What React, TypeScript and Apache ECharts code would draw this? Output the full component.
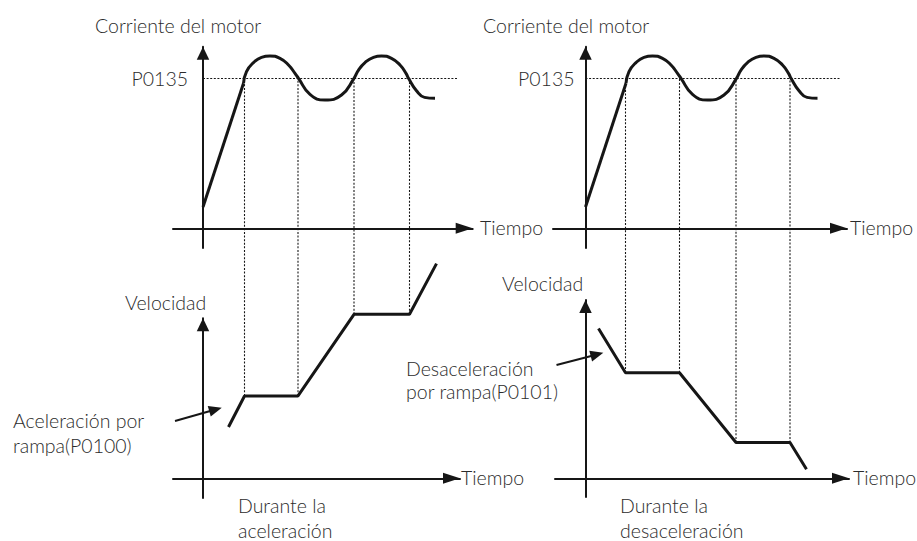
import React, { useEffect, useRef } from "react";
import * as echarts from "echarts";

// ---------- data ----------
// Motor current (P0135 = 100)
const currentRampTime = [0, 8.1];
const currentRampValue = [14.2, 96.7];
const currentWaveTime = [8.1, 8.7, 10.1, 11.7, 13.4, 15.4, 17.1, 18.4, 19.1, 21.4, 24.4, 27.7, 30.2, 31.1, 32.4, 34.1, 35.7, 37.7, 39.4, 40.6, 41.1, 42.7, 44.3, 46.4];
const currentWaveValue = [96.7, 104.5, 110.5, 114, 114.9, 113.3, 108.9, 103.3, 100, 89.3, 85.5, 88.9, 100, 105.5, 110.5, 114, 114.9, 113.3, 108.9, 103.3, 100, 91.7, 87.3, 86.7];
const p0135Level = 100;
const p0135End = 50.8;

// Speed during acceleration / deceleration
const accelTime = [5.1, 8.3, 19.0, 30.2, 41.3, 46.7];
const accelSpeed = [31.3, 50.2, 50.2, 100, 100, 130.9];
const decelTime = [2.6, 8.0, 18.8, 30.1, 40.9, 44.2];
const decelSpeed = [91.3, 64.4, 64.4, 21.8, 21.8, 5.5];
const cornerIndexes = [1, 2, 3, 4];

// Annotation arrows (tail, head)
const accelArrowTime = [-5.6, 2.5];
const accelArrowSpeed = [34.9, 42.0];
const decelArrowTime = [-5.8, 2.3];
const decelArrowSpeed = [69.1, 75.5];

// Texts
const currentTitle = "Corriente del motor";
const speedTitle = "Velocidad";
const timeName = "Tiempo";
const levelName = "P0135";
const accelNote = ["Aceleración por", "rampa(P0100)"];
const decelNote = ["Desaceleración", "por rampa(P0101)"];
const accelCaption = ["Durante la", "aceleración"];
const decelCaption = ["Durante la", "desaceleración"];

// ---------- layout ----------
const INK = "#161616";
const TEXT = "#2b2b2b";
const FONT = "Lato, 'Open Sans', sans-serif";
const FS = 19.5;
const FW = 300;

type Panel = { ox: number; oy: number; x0: number; x1: number; yTop: number; yBot: number; kx: number; ky: number };
const curL: Panel = { ox: 203, oy: 228.3, x0: 173, x1: 472.7, yTop: 46.7, yBot: 248, kx: 5, ky: 1.5 };
const spdL: Panel = { ox: 203, oy: 478.3, x0: 173, x1: 460, yTop: 318.3, yBot: 498, kx: 5, ky: 1.64 };
const curR: Panel = { ox: 585.5, oy: 228.3, x0: 553, x1: 847, yTop: 46.7, yBot: 248, kx: 5, ky: 1.5 };
const spdR: Panel = { ox: 585.5, oy: 478.3, x0: 555, x1: 849, yTop: 300, yBot: 497, kx: 5, ky: 1.64 };
const panels = [curL, spdL, curR, spdR];

const zip = (xs: number[], ys: number[]) => xs.map((x, i) => [x, ys[i]]);

function gridOf(p: Panel) {
  return { left: p.x0, top: p.yTop, width: p.x1 - p.x0, height: p.yBot - p.yTop, containLabel: false };
}

function axisOf(kind: "x" | "y", p: Panel, idx: number) {
  const arrow = kind === "x" ? [11, 17] : [12.5, 13];
  const min = kind === "x" ? (p.x0 - p.ox) / p.kx : -(p.yBot - p.oy) / p.ky;
  const max = kind === "x" ? (p.x1 - p.ox) / p.kx : (p.oy - p.yTop) / p.ky;
  return {
    type: "value",
    gridIndex: idx,
    min,
    max,
    axisLine: {
      show: true,
      onZero: true,
      symbol: ["none", "triangle"],
      symbolSize: arrow,
      symbolOffset: [0, -arrow[1] / 2],
      lineStyle: { color: INK, width: 2 },
    },
    axisTick: { show: false },
    axisLabel: { show: false },
    splitLine: { show: false },
  };
}

function line(idx: number, data: number[][], extra: any = {}) {
  return {
    type: "line",
    xAxisIndex: idx,
    yAxisIndex: idx,
    data,
    symbol: "none",
    clip: false,
    silent: true,
    lineStyle: { color: INK, width: 3 },
    z: 3,
    ...extra,
  };
}

const dottedStyle = { color: INK, width: 1.1, type: [2, 1.6] };

function currentSeries(idx: number, labelGap: number) {
  return [
    line(idx, zip(currentRampTime, currentRampValue)),
    line(idx, zip(currentWaveTime, currentWaveValue), {
      smooth: 0.5,
      markLine: {
        silent: true,
        symbol: ["none", "none"],
        lineStyle: dottedStyle,
        label: {
          show: true,
          position: "start",
          distance: labelGap,
          formatter: levelName,
          color: TEXT,
          fontFamily: FONT,
          fontSize: FS,
          fontWeight: FW,
        },
        data: [[{ coord: [0, p0135Level] }, { coord: [p0135End, p0135Level] }]],
      },
    }),
  ];
}

function speedSeries(idx: number, cur: Panel, p: Panel, t: number[], v: number[], at: number[], av: number[]) {
  // value of the P0135 level expressed on this panel's speed axis
  const levelPx = cur.oy - p0135Level * cur.ky;
  const vTop = (p.oy - levelPx) / p.ky;
  const dotted = cornerIndexes.map((i) =>
    line(idx, [[t[i], v[i]], [t[i], vTop]], { lineStyle: dottedStyle, z: 2 })
  );
  return [
    line(idx, zip(t, v)),
    ...dotted,
    line(idx, [], {
      markLine: {
        silent: true,
        symbol: ["none", "triangle"],
        symbolSize: [11, 13],
        lineStyle: { color: INK, width: 2, type: "solid" },
        label: { show: false },
        data: [[{ coord: [at[0], av[0]] }, { coord: [at[1], av[1]] }]],
      },
    }),
  ];
}

function txt(text: string, x: number, y: number) {
  return {
    type: "text",
    x,
    y,
    silent: true,
    style: {
      text,
      fill: TEXT,
      fontFamily: FONT,
      fontSize: FS,
      fontWeight: FW,
      textAlign: "left",
      textVerticalAlign: "middle",
    },
  };
}

function buildOption() {
  return {
    animation: false,
    backgroundColor: "#ffffff",
    grid: panels.map(gridOf),
    xAxis: panels.map((p, i) => axisOf("x", p, i)),
    yAxis: panels.map((p, i) => axisOf("y", p, i)),
    series: [
      ...currentSeries(0, 15),
      ...speedSeries(1, curL, spdL, accelTime, accelSpeed, accelArrowTime, accelArrowSpeed),
      ...currentSeries(2, 11),
      ...speedSeries(3, curR, spdR, decelTime, decelSpeed, decelArrowTime, decelArrowSpeed),
    ],
    graphic: [
      txt(currentTitle, 95, 25),
      txt(currentTitle, 483, 25),
      txt(timeName, 480, 227),
      txt(timeName, 850, 227),
      txt(timeName, 461, 477),
      txt(timeName, 853, 477),
      txt(speedTitle, 125, 302),
      txt(speedTitle, 502, 283),
      txt(accelNote[0], 13, 420),
      txt(accelNote[1], 13, 445),
      txt(decelNote[0], 406, 368),
      txt(decelNote[1], 406, 391),
      txt(accelCaption[0], 238, 505),
      txt(accelCaption[1], 238, 530),
      txt(decelCaption[0], 620, 505),
      txt(decelCaption[1], 620, 530),
    ],
  };
}

export default function App() {
  const ref = useRef<HTMLDivElement>(null);
  useEffect(() => {
    if (!ref.current) return;
    const chart = echarts.init(ref.current, null, { renderer: "svg" });
    chart.setOption(buildOption() as any);
    return () => chart.dispose();
  }, []);
  return (
    <div
      ref={ref}
      style={{ position: "fixed", left: 0, top: 0, width: 917, height: 541, background: "#fff" }}
    />
  );
}
